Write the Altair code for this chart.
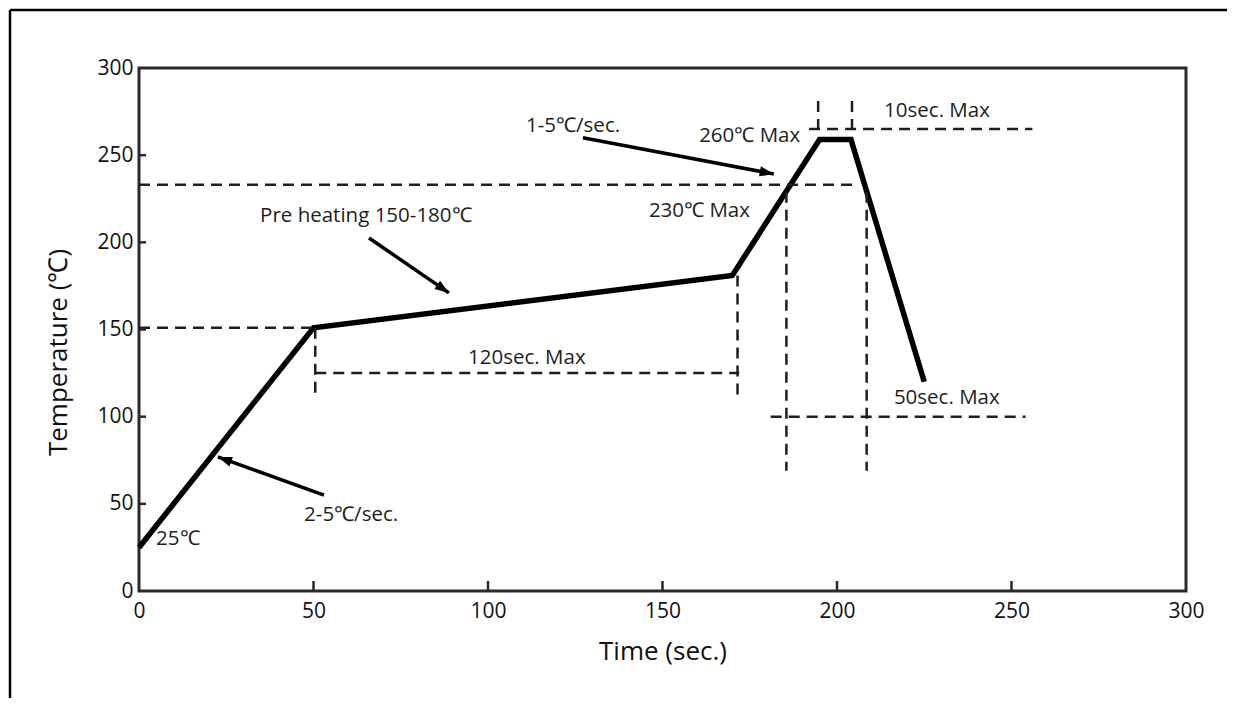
import math
import altair as alt
import pandas as pd

W, H = 1047, 523
FONT = "Open Sans"
INK = "#1e1e1e"

# --- data -----------------------------------------------------------------
profile_time = [0, 50, 170, 195, 204, 225]
profile_temp = [25, 151, 181, 259, 259, 120]

guide_x = [0, 0, 192, 50.5, 50.5, 171.5, 185.5, 208.5, 181, 194.6, 204.3]
guide_x2 = [50, 206, 256, 50.5, 172, 171.5, 185.5, 208.5, 254, 194.6, 204.3]
guide_y = [151, 233, 265, 151, 125, 181, 229, 229, 100, 281, 281]
guide_y2 = [151, 233, 265, 110, 125, 110, 69, 69, 100, 261, 261]

arrow_tail_t = [53, 65.9, 127.2]
arrow_tail_T = [55, 202.5, 260]
arrow_head_t = [22.6, 88.8, 181.9]
arrow_head_T = [76.9, 171, 239.2]

label_text = ["25℃", "2-5℃/sec.", "Pre heating 150-180℃", "120sec. Max",
              "230℃ Max", "260℃ Max", "1-5℃/sec.", "10sec. Max", "50sec. Max"]
label_t = [4.9, 47.3, 34.7, 94.3, 146.1, 160.5, 110.9, 213.5, 216.3]
label_T = [30, 43.6, 215, 133.7, 218, 261, 266.5, 275.4, 110.7]

axis_values = [0, 50, 100, 150, 200, 250, 300]
inner_ticks = [50, 100, 150, 200, 250]

# --- tables -----------------------------------------------------------------
profile = pd.DataFrame({"t": profile_time, "T": profile_temp})
guides = pd.DataFrame({"x": guide_x, "x2": guide_x2, "y": guide_y, "y2": guide_y2})
angles = []
for a, b, c, d in zip(arrow_tail_t, arrow_tail_T, arrow_head_t, arrow_head_T):
    dx = (c - a) * W / 300
    dy = -(d - b) * H / 300
    angles.append(math.degrees(math.atan2(dx, -dy)) % 360)
arrows = pd.DataFrame({"x": arrow_tail_t, "y": arrow_tail_T,
                       "x2": arrow_head_t, "y2": arrow_head_T, "ang": angles})
labels = pd.DataFrame({"txt": label_text, "t": label_t, "T": label_T})
ticks = pd.DataFrame({"v": inner_ticks})
one = pd.DataFrame({"a": [0]})

xs = alt.Scale(domain=[0, 300], nice=False, zero=False)
ys = alt.Scale(domain=[0, 300], nice=False, zero=False)

x_axis = alt.Axis(values=axis_values, title="Time (sec.)", domain=False, ticks=False,
                  grid=False, labelFont=FONT, labelFontSize=21, labelColor="#111",
                  labelPadding=9, labelFlush=False, titleFont=FONT, titleFontSize=26,
                  titleFontWeight="normal", titleColor="#111", titleY=60,
                  titleBaseline="middle")
y_axis = alt.Axis(values=axis_values, title="Temperature (℃)", domain=False, ticks=False,
                  grid=False, labelFont=FONT, labelFontSize=21, labelColor="#111",
                  labelPadding=6, labelFlush=False, titleFont=FONT, titleFontSize=26,
                  titleFontWeight="normal", titleColor="#111", titleX=-81, titleY=284,
                  titleBaseline="middle", titleAlign="center")


def X(field):
    return alt.X(field, scale=xs, axis=x_axis)


def Y(field):
    return alt.Y(field, scale=ys, axis=y_axis)


line = alt.Chart(profile).mark_line(color="black", strokeWidth=5.5, strokeJoin="miter",
                                    strokeCap="butt").encode(x=X("t:Q"), y=Y("T:Q"))

dashed = alt.Chart(guides).mark_rule(color=INK, strokeWidth=2.5, strokeDash=[11, 7]).encode(
    x=X("x:Q"), x2="x2:Q", y=Y("y:Q"), y2="y2:Q",
)

shafts = alt.Chart(arrows).mark_rule(color="black", strokeWidth=3.5).encode(
    x=X("x:Q"), x2="x2:Q", y=Y("y:Q"), y2="y2:Q",
)

heads = alt.Chart(arrows).mark_point(shape="M0,0L-0.36,1L0.36,1Z", filled=True, opacity=1,
                                     color="black", size=800, strokeWidth=0).encode(
    x=X("x2:Q"), y=Y("y2:Q"),
    angle=alt.Angle("ang:Q", scale=None),
)

texts = alt.Chart(labels).mark_text(align="left", baseline="middle", font=FONT, fontSize=20.5,
                                    color=INK).encode(
    x=X("t:Q"), y=Y("T:Q"), text="txt:N",
)

xticks = alt.Chart(ticks).mark_rule(color="#2a2a2a", strokeWidth=2.5).encode(
    x=X("v:Q"), y=alt.value(H), y2=alt.value(H - 10),
)
yticks = alt.Chart(ticks).mark_rule(color="#2a2a2a", strokeWidth=2.5).encode(
    y=Y("v:Q"), x=alt.value(0), x2=alt.value(7),
)

frame_left = alt.Chart(one).mark_rule(color="black", strokeWidth=2.5).encode(
    x=alt.value(-129), y=alt.value(-58), y2=alt.value(630),
)
frame_top = alt.Chart(one).mark_rule(color="black", strokeWidth=2.5).encode(
    x=alt.value(-129), x2=alt.value(1088), y=alt.value(-58),
)

chart = alt.layer(line, frame_left, frame_top, dashed, shafts, heads, texts, xticks, yticks).properties(
    width=W, height=H, padding=0, background="white"
).configure(view=alt.ViewConfig(stroke="#2a2a2a", strokeWidth=3))

chart.save("out.html", embed_options={"renderer": "svg", "actions": False})
